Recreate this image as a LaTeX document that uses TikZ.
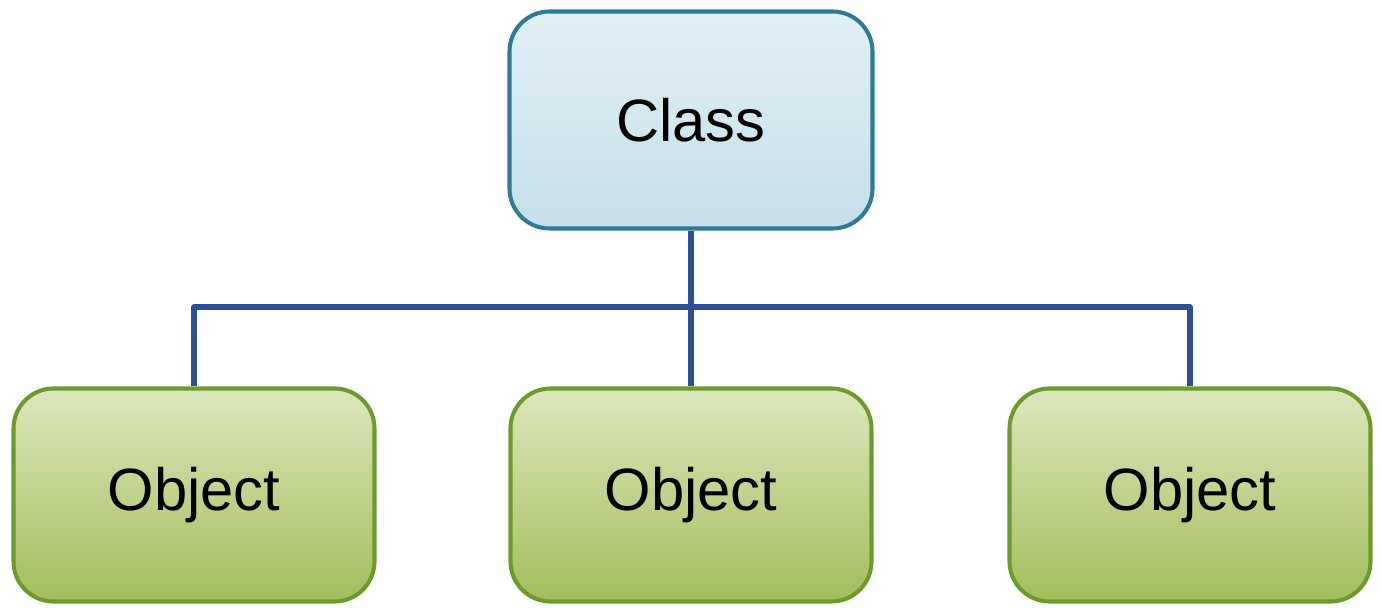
\documentclass[tikz,border=0pt]{standalone}
\usepackage{fontspec}
\setmainfont{Liberation Sans}
\usetikzlibrary{positioning}
\definecolor{classedge}{HTML}{2E7C94}
\definecolor{classtop}{HTML}{E2F0F6}
\definecolor{classbot}{HTML}{C4DFEA}
\definecolor{objedge}{HTML}{6C9A2C}
\definecolor{objtop}{HTML}{DCE7BC}
\definecolor{objbot}{HTML}{A2BE5C}
\definecolor{linkblue}{HTML}{2F4E98}
\tikzset{
  classbox/.style={draw=classedge,line width=2.3pt,rounded corners=0.8cm,
    top color=classtop,bottom color=classbot,
    minimum width=7.26cm,minimum height=4.34cm,inner sep=0pt,
    font=\fontsize{34}{40}\selectfont},
  objbox/.style={draw=objedge,line width=2.3pt,rounded corners=0.8cm,
    top color=objtop,bottom color=objbot,
    minimum width=7.22cm,minimum height=4.26cm,inner sep=0pt,
    font=\fontsize{34}{40}\selectfont},
  link/.style={linkblue,line width=3.2pt,line join=round}
}

\begin{document}
\begin{tikzpicture}
  \useasboundingbox (0,0) rectangle (27.64,12.14);

  % Class
  \node[classbox] (cls) at (13.82,9.74) {Class};

  % Objects
  \node[objbox] (obj1) at (3.88,2.24) {Object};
  \node[objbox] (obj2) at (13.82,2.24) {Object};
  \node[objbox] (obj3) at (23.8,2.24) {Object};

  % Links
  \coordinate (busL) at (3.88,6.0);
  \coordinate (busR) at (23.8,6.0);
  \draw[link] (cls.south) -- (obj2.north);
  \draw[link] (obj1.north) -- (busL) -- (busR) -- (obj3.north);
\end{tikzpicture}
\end{document}
